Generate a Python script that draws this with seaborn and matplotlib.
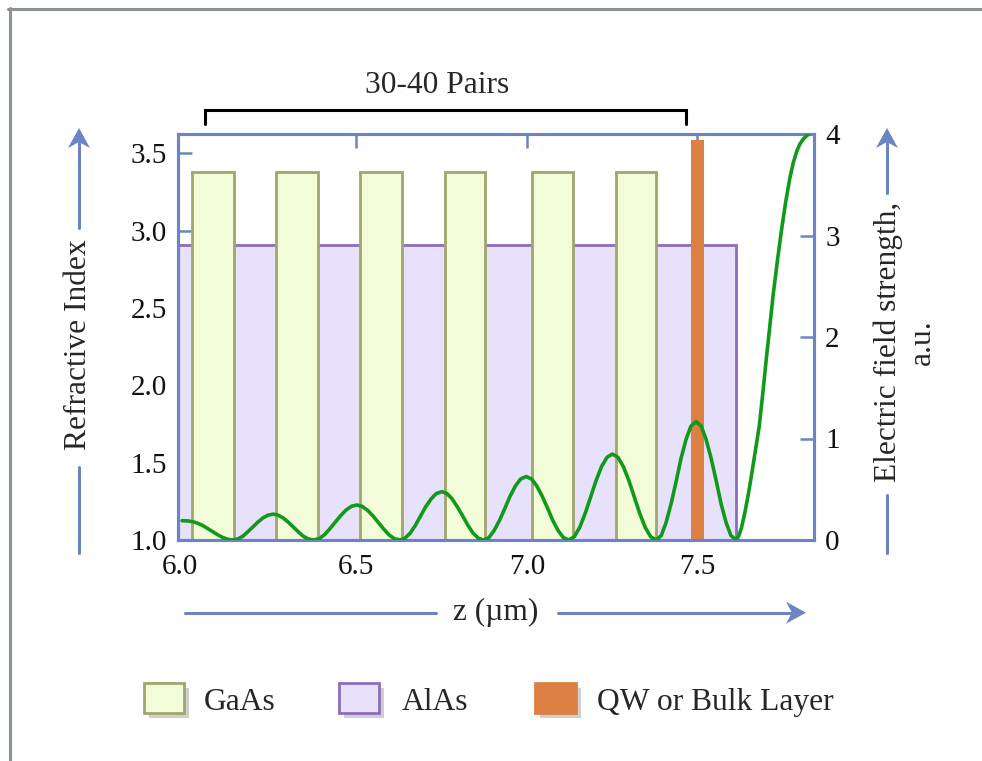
import numpy as np
import pandas as pd
import matplotlib
matplotlib.use("Agg")
import matplotlib.pyplot as plt
import matplotlib.transforms as mtransforms
import seaborn as sns
from matplotlib.patches import Rectangle, Polygon
from matplotlib.lines import Line2D

# ---------------- data ----------------
gaas_start = [6.020, 6.266, 6.512, 6.759, 7.015, 7.261]
gaas_end = [6.141, 6.387, 6.634, 6.878, 7.135, 7.379]
gaas_index = 3.378
alas_start = 5.90
alas_end = 7.613
alas_index = 2.906
qw_start = 7.481
qw_end = 7.520
qw_index = 3.587

z_field = [5.990, 6.005, 6.020, 6.035, 6.050, 6.064, 6.079, 6.094, 6.109, 6.124,
           6.138, 6.153, 6.168, 6.182, 6.197, 6.212, 6.227, 6.242, 6.257, 6.271, 6.286, 6.301, 6.316, 6.331, 6.345, 6.360,
           6.375, 6.391, 6.407, 6.422, 6.438, 6.454, 6.470, 6.486, 6.502, 6.517, 6.533, 6.549, 6.565, 6.581, 6.596, 6.612,
           6.628, 6.643, 6.659, 6.674, 6.689, 6.704, 6.720, 6.735, 6.751, 6.766, 6.781, 6.796, 6.812, 6.827, 6.842, 6.858,
           6.873, 6.889, 6.904, 6.920, 6.936, 6.951, 6.967, 6.982, 6.998, 7.014, 7.029, 7.045, 7.061, 7.076, 7.092, 7.107,
           7.123, 7.139, 7.155, 7.171, 7.187, 7.203, 7.219, 7.235, 7.251, 7.267, 7.283, 7.299, 7.315, 7.331, 7.347, 7.363,
           7.379, 7.394, 7.408, 7.423, 7.438, 7.452, 7.467, 7.481, 7.496, 7.511, 7.525, 7.540, 7.555, 7.569, 7.584, 7.598,
           7.613, 7.621, 7.629, 7.639, 7.649, 7.657, 7.665, 7.673, 7.681, 7.691, 7.701, 7.712, 7.722, 7.735, 7.747,
           7.759, 7.771, 7.781, 7.791, 7.800, 7.810, 7.819, 7.827]
e_field = [0.190, 0.189, 0.181, 0.166, 0.143, 0.115, 0.083, 0.052, 0.025, 0.007,
           0.000, 0.010, 0.037, 0.079, 0.128, 0.176, 0.218, 0.245, 0.255, 0.245, 0.218, 0.176, 0.128, 0.079, 0.037, 0.010,
           0.000, 0.013, 0.051, 0.107, 0.173, 0.238, 0.294, 0.332, 0.345, 0.332, 0.294, 0.238, 0.173, 0.107, 0.051, 0.013,
           0.000, 0.018, 0.070, 0.147, 0.238, 0.329, 0.406, 0.458, 0.476, 0.458, 0.406, 0.329, 0.238, 0.147, 0.070, 0.018,
           0.000, 0.024, 0.092, 0.193, 0.313, 0.432, 0.534, 0.601, 0.625, 0.601, 0.534, 0.432, 0.313, 0.193, 0.092, 0.024,
           0.000, 0.032, 0.124, 0.261, 0.424, 0.586, 0.723, 0.815, 0.847, 0.815, 0.723, 0.586, 0.424, 0.261, 0.124, 0.032,
           0.000, 0.044, 0.171, 0.360, 0.583, 0.806, 0.995, 1.122, 1.166, 1.122, 0.995, 0.806, 0.583, 0.360, 0.171, 0.044,
           0.000, 0.040, 0.120, 0.270, 0.450, 0.610, 0.780, 0.950, 1.120, 1.430, 1.760, 2.110, 2.420, 2.770, 3.070,
           3.340, 3.570, 3.720, 3.830, 3.900, 3.950, 3.980, 4.000]

xticks = [6.0, 6.5, 7.0, 7.5]
yticks_left = [1.0, 1.5, 2.0, 2.5, 3.0, 3.5]
yticks_right = [0, 1, 2, 3, 4]
legend_labels = ["GaAs", "AlAs", "QW or Bulk Layer"]
bracket_label = "30-40 Pairs"

# ---------------- style ----------------
sns.set_theme(style="white")
plt.rcParams['font.family'] = ['Liberation Serif', 'DejaVu Serif']

BLUE = '#6a84c4'
GAAS_FC, GAAS_EC = '#f2fcd8', '#a0a66c'
ALAS_FC, ALAS_EC = '#e7e1fb', '#8b6dbd'
QW_C = '#dc8043'
GREEN = '#11991a'
W, H = 982, 761

fig = plt.figure(figsize=(W / 100, H / 100), dpi=100)
fig.patch.set_facecolor('white')


def fx(x):
    return x / W


def fy(y):
    return 1 - y / H


ax = fig.add_axes([fx(178), fy(540), (814 - 178) / W, (540 - 134) / H])
ax.set_facecolor('white')

# AlAs background layer
ax.bar(alas_start, alas_index, width=alas_end - alas_start, bottom=0, align='edge',
       color=ALAS_FC, edgecolor=ALAS_EC, linewidth=2.0, zorder=1)
# GaAs layers
ax.bar(gaas_start, gaas_index, width=np.subtract(gaas_end, gaas_start), bottom=0,
       align='edge', color=GAAS_FC, edgecolor=GAAS_EC, linewidth=2.0, zorder=1.2)
# QW layer
ax.bar(qw_start, qw_index, width=qw_end - qw_start, bottom=0, align='edge',
       color=QW_C, edgecolor='none', linewidth=0, zorder=1.4)

ax.set_xlim(5.978, 7.8415)
ax.set_ylim(1.0, 3.626)
ax.set_xticks(xticks)
ax.set_xticklabels([f"{t:.1f}" for t in xticks])
ax.set_yticks(yticks_left)
ax.set_yticklabels([f"{t:.1f}" for t in yticks_left])

ax2 = ax.twinx()
df = pd.DataFrame({'z': z_field, 'E': e_field})
sns.lineplot(data=df, x='z', y='E', ax=ax2, color=GREEN, linewidth=2.6, sort=False, zorder=3)
for ln in ax2.get_lines():
    ln.set_solid_joinstyle('round')
    ln.set_solid_capstyle('round')
ax2.set_ylim(0, 4)
ax2.set_yticks(yticks_right)
ax2.set_yticklabels([str(t) for t in yticks_right])
ax2.set_xlabel('')
ax2.set_ylabel('')
ax.set_xlabel('')
ax.set_ylabel('')
ax2.set_xlim(5.978, 7.8415)

for a in (ax, ax2):
    for s in a.spines.values():
        s.set_color(BLUE)
        s.set_linewidth(2.2)
        s.set_visible(True)

ax.tick_params(axis='x', direction='in', length=10, width=1.8, color=BLUE,
               top=True, bottom=True, labelsize=21, pad=10, labelcolor='#111111')
ax.tick_params(axis='y', direction='in', length=10, width=1.8, color=BLUE,
               left=True, right=False, labelsize=21, pad=8, labelcolor='#111111')
ax2.tick_params(axis='y', direction='in', length=10, width=1.8, color=BLUE,
                left=False, right=True, labelsize=21, pad=8, labelcolor='#111111')
ax2.tick_params(axis='x', bottom=False, top=False, labelbottom=False)

# first x tick: no tick mark, label sits at the axis corner
t0 = ax.xaxis.get_major_ticks()[0]
t0.tick1line.set_visible(False)
t0.tick2line.set_visible(False)
t0.label1.set_transform(t0.label1.get_transform() +
                        mtransforms.ScaledTranslation(-6 / 100, 0, fig.dpi_scale_trans))

# ---------------- annotations ----------------
TXT = 22.7


def fline(xs, ys, **kw):
    fig.add_artist(Line2D([fx(x) for x in xs], [fy(y) for y in ys],
                          transform=fig.transFigure, **kw))


def arrow_head(tip, direction, size=(22, 20), notch=6):
    tx, ty = tip
    hw, hl = size[0] / 2, size[1]
    if direction == 'up':
        pts = [(tx, ty), (tx - hw, ty + hl), (tx, ty + hl - notch), (tx + hw, ty + hl)]
    else:  # right
        pts = [(tx, ty), (tx - hl, ty - hw), (tx - hl + notch, ty), (tx - hl, ty + hw)]
    fig.add_artist(Polygon([(fx(x), fy(y)) for x, y in pts], closed=True,
                           transform=fig.transFigure, facecolor=BLUE, edgecolor='none'))


# outer frame (top & left)
fline([8, W], [8.5, 8.5], color='#8b9298', linewidth=2.2)
fline([9.5, 9.5], [8, H], color='#8b9298', linewidth=2.2)

# bracket
fline([205, 205, 686, 686], [124, 110, 110, 124], color='black', linewidth=2.2,
      solid_joinstyle='miter')
fig.text(fx(437), fy(93), bracket_label, ha='center', va='baseline', fontsize=TXT)

# left arrow + label
fline([79, 79], [553, 467], color=BLUE, linewidth=2.2)
fline([79, 79], [228, 140], color=BLUE, linewidth=2.2)
arrow_head((79, 128), 'up')
fig.text(fx(79), fy(345), "Refractive Index", rotation=90, ha='center', va='center',
         fontsize=TXT)

# right arrow + label
fline([887, 887], [553, 495], color=BLUE, linewidth=2.2)
fline([887, 887], [193, 140], color=BLUE, linewidth=2.2)
arrow_head((887, 128), 'up')
fig.text(fx(905), fy(342), "Electric field strength,\na.u.", rotation=90, ha='center',
         va='center', multialignment='center', fontsize=TXT, linespacing=1.2)

# bottom arrow + label
fline([185, 436], [612.7, 612.7], color=BLUE, linewidth=2.2)
fline([558, 795], [612.7, 612.7], color=BLUE, linewidth=2.2)
arrow_head((806, 612.7), 'right')
fig.text(fx(496), fy(612), "z (\u00b5m)", ha='center', va='center', fontsize=TXT)

# legend
leg_boxes = [(144, 184, GAAS_FC, GAAS_EC), (339, 379, ALAS_FC, ALAS_EC), (535, 576, QW_C, QW_C)]
leg_text_x = [204, 402, 597]
y0, y1 = 683, 713
for (xa, xb, fc, ec), lab, tx in zip(leg_boxes, legend_labels, leg_text_x):
    fig.add_artist(Rectangle((fx(xa + 5), fy(y1 + 5)), (xb - xa) / W, (y1 - y0) / H,
                             transform=fig.transFigure, facecolor='#cfcfcf', edgecolor='none'))
    fig.add_artist(Rectangle((fx(xa), fy(y1)), (xb - xa) / W, (y1 - y0) / H,
                             transform=fig.transFigure, facecolor=fc, edgecolor=ec,
                             linewidth=2.0))
    fig.text(fx(tx), fy(710), lab, ha='left', va='baseline', fontsize=TXT)

fig.savefig('out.png', dpi=100, facecolor='white')
